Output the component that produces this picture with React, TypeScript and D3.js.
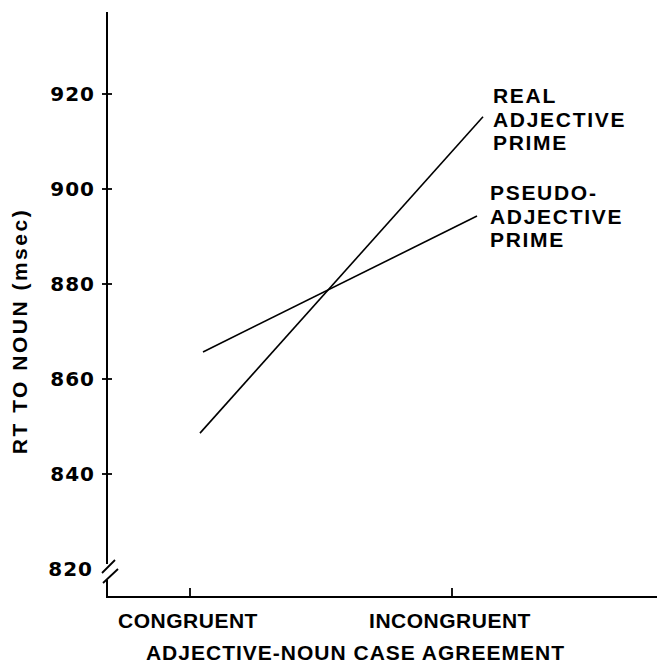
import React from 'react';
import * as d3 from 'd3';

// condition labels on the x axis
const conditions = ['CONGRUENT', 'INCONGRUENT'];
// mean RT (msec) per condition
const realPrime = [848.6, 915.2];
const pseudoPrime = [865.7, 894.3];
const yTicks = [820, 840, 860, 880, 900, 920];
const realLabel = ['REAL', 'ADJECTIVE', 'PRIME'];
const pseudoLabel = ['PSEUDO-', 'ADJECTIVE', 'PRIME'];

const W = 661;
const H = 664;
const FONT = '"Liberation Sans", Arial, Helvetica, sans-serif';

const App = () => {
    const axisX = 107;
    const axisY = 597;
    const y = d3.scaleLinear().domain([820, 920]).range([569, 94]);
    const x = d3.scalePoint<string>().domain(conditions).range([190, 452]);

    // lines in the original are drawn a little to the right of the ticks
    const series = [
        { values: realPrime, dx: [10, 31], label: realLabel, lx: 493, ly: 103 },
        { values: pseudoPrime, dx: [13, 25], label: pseudoLabel, lx: 490, ly: 200 },
    ];

    const line = d3.line<[number, number]>().x(d => d[0]).y(d => d[1]);

    return (
        <svg width={W} height={H} style={{ position: 'absolute', left: 0, top: 0, background: '#fff' }}
            fontFamily={FONT} fontWeight="bold">
            {/* y axis with break */}
            <line x1={axisX} y1={12} x2={axisX} y2={564} stroke="#000" strokeWidth={2} />
            <line x1={102} y1={573} x2={115} y2={560} stroke="#000" strokeWidth={1.8} />
            <line x1={103} y1={583} x2={118} y2={569} stroke="#000" strokeWidth={1.8} />
            <line x1={axisX} y1={580} x2={axisX} y2={axisY} stroke="#000" strokeWidth={2} />
            {/* x axis */}
            <line x1={axisX - 1} y1={axisY} x2={657} y2={axisY} stroke="#000" strokeWidth={2} />

            {yTicks.map(t => (
                <g key={t}>
                    {t !== 820 && (
                        <line x1={axisX - 5} x2={axisX + 5} y1={y(t)} y2={y(t)} stroke="#000" strokeWidth={1.8} />
                    )}
                    <text x={(t === 820 ? 92 : 94) + 1} y={y(t)} dy="0.36em" textAnchor="end" fontSize={20}
                        fontFamily='"DejaVu Sans", sans-serif' letterSpacing={1}>{t}</text>
                </g>
            ))}

            {conditions.map(c => (
                <g key={c}>
                    <line x1={x(c)} x2={x(c)} y1={axisY} y2={axisY - 9} stroke="#000" strokeWidth={1.8} />
                    <text x={(x(c) as number) - 2} y={628} textAnchor="middle" fontSize={21} letterSpacing={0.5}>{c}</text>
                </g>
            ))}

            <text x={355.5} y={660} textAnchor="middle" fontSize={21} letterSpacing={1}>
                ADJECTIVE-NOUN CASE AGREEMENT
            </text>
            <text transform="translate(27,331) rotate(-90)" textAnchor="middle" fontSize={21} letterSpacing={2.5}>
                RT TO NOUN (msec)
            </text>

            {series.map((s, i) => {
                const pts: [number, number][] = s.values.map((v, j) =>
                    [(x(conditions[j]) as number) + s.dx[j], y(v)]);
                return (
                    <g key={i}>
                        <path d={line(pts) || ''} fill="none" stroke="#000" strokeWidth={1.6} />
                        {s.label.map((l, k) => (
                            <text key={k} x={s.lx} y={s.ly + k * 23.5} fontSize={21} letterSpacing={1.7}>{l}</text>
                        ))}
                    </g>
                );
            })}
        </svg>
    );
};

export default App;
